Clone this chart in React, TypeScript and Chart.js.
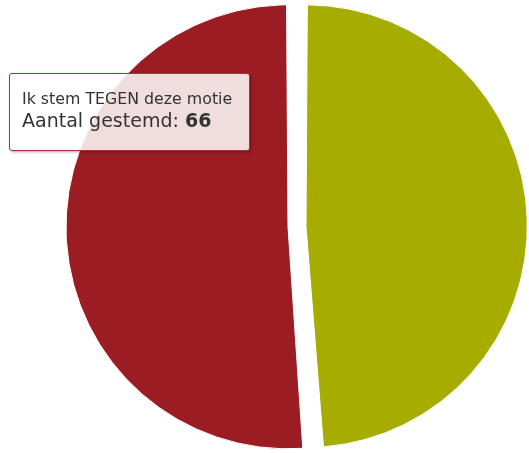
import { useEffect, useRef } from "react";
import { Chart, registerables } from "chart.js";

Chart.register(...registerables);

const labels = ["Ik stem VOOR deze motie", "Ik stem TEGEN deze motie"];
const votes = [63, 66];
const sliceColors = ["#a6ad00", "#9b1d23"];
const valueLabel = "Aantal gestemd";
const activeIndex = 1;

export default function App() {
  const canvasRef = useRef<HTMLCanvasElement | null>(null);
  const tipRef = useRef<HTMLDivElement | null>(null);

  useEffect(() => {
    const canvas = canvasRef.current;
    if (!canvas) return;
    const chart = new Chart(canvas, {
      type: "pie",
      data: {
        labels,
        datasets: [
          {
            data: votes,
            backgroundColor: sliceColors,
            hoverBackgroundColor: sliceColors,
            borderColor: "#ffffff",
            hoverBorderColor: "#ffffff",
            borderWidth: 1,
            offset: [36, 36],
            hoverOffset: 0,
            radius: 213,
          } as any,
        ],
      },
      options: {
        responsive: false,
        animation: false,
        layout: { padding: { left: 65, right: 0, top: 0, bottom: 0 } },
        plugins: {
          legend: { display: false },
          tooltip: {
            enabled: false,
            external: ({ tooltip }: any) => {
              const el = tipRef.current;
              if (!el) return;
              if (!tooltip || tooltip.opacity === 0 || !tooltip.dataPoints || !tooltip.dataPoints.length) {
                el.style.display = "none";
                return;
              }
              const dp = tooltip.dataPoints[0];
              const title = el.querySelector(".tt-title") as HTMLElement;
              const name = el.querySelector(".tt-name") as HTMLElement;
              const val = el.querySelector(".tt-val") as HTMLElement;
              title.textContent = String(dp.label);
              name.textContent = valueLabel + ": ";
              val.textContent = String(dp.raw);
              el.style.display = "block";
            },
          },
        },
      },
    });
    chart.tooltip?.setActiveElements([{ datasetIndex: 0, index: activeIndex }], { x: 100, y: 200 });
    chart.update();
    return () => chart.destroy();
  }, []);

  return (
    <div style={{ position: "fixed", left: 0, top: 0, width: 529, height: 453, background: "#fff" }}>
      <canvas ref={canvasRef} width={529} height={453} style={{ position: "absolute", left: 0, top: 0, width: 529, height: 453 }} />
      <div
        ref={tipRef}
        style={{
          display: "none",
          position: "absolute",
          left: 9,
          top: 73,
          width: 241,
          height: 78,
          boxSizing: "border-box",
          background: "rgba(255,255,255,0.85)",
          border: "1px solid #a8333a",
          borderRadius: 3,
          boxShadow: "1px 1px 3px rgba(0,0,0,0.35)",
          fontFamily: "'DejaVu Sans', sans-serif",
          color: "#333333",
          pointerEvents: "none",
        }}
      >
        <div className="tt-title" style={{ position: "absolute", left: 12, top: 16.6, fontSize: 15.8, lineHeight: 1, whiteSpace: "nowrap" }} />
        <div style={{ position: "absolute", left: 12, top: 36.9, fontSize: 19, lineHeight: 1, whiteSpace: "nowrap" }}>
          <span className="tt-name" />
          <b className="tt-val" />
        </div>
      </div>
    </div>
  );
}
